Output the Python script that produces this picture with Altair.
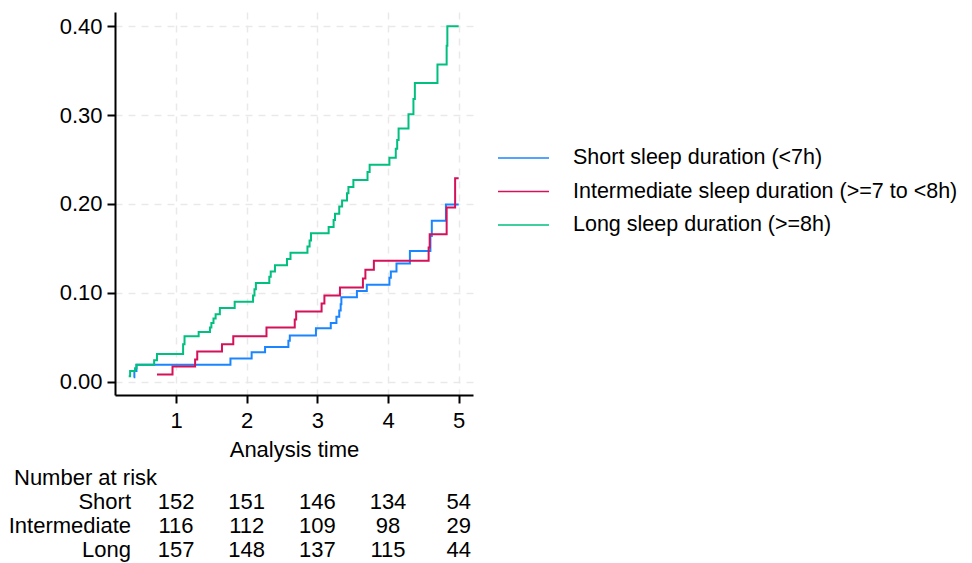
import altair as alt
import pandas as pd

# ---- data ----
groups = ["Short sleep duration (<7h)",
          "Intermediate sleep duration (>=7 to <8h)",
          "Long sleep duration (>=8h)"]
colors = ["#1A85FF", "#D41159", "#00BF7F"]

short_t = [0.40, 0.41, 0.44, 1.77, 2.07, 2.26, 2.59, 2.61, 2.98, 3.19, 3.27, 3.31,
           3.33, 3.34, 3.56, 3.70, 4.02, 4.04, 4.12, 4.31, 4.60, 4.62, 4.82, 5.00]
short_f = [0.005, 0.012, 0.019, 0.026, 0.033, 0.039, 0.046, 0.052, 0.060, 0.066, 0.073, 0.080,
           0.087, 0.095, 0.102, 0.109, 0.117, 0.124, 0.133, 0.147, 0.164, 0.181, 0.1995, 0.1995]

inter_t = [0.73, 0.95, 1.27, 1.30, 1.65, 1.81, 2.28, 2.68, 2.70, 3.06, 3.10, 3.32,
           3.645, 3.68, 3.80, 4.575, 4.59, 4.83, 4.95, 5.00]
inter_f = [0.008, 0.017, 0.025, 0.034, 0.042, 0.051, 0.061, 0.070, 0.079, 0.088, 0.097, 0.106,
           0.116, 0.126, 0.136, 0.151, 0.166, 0.196, 0.229, 0.229]

long_t = [0.33, 0.35, 0.42, 0.44, 0.69, 0.73, 1.10, 1.12, 1.32, 1.48, 1.50, 1.53, 1.56, 1.62,
          1.83, 2.09, 2.11, 2.13, 2.32, 2.34, 2.40, 2.57, 2.62, 2.86, 2.89, 2.91, 3.16, 3.23,
          3.25, 3.31, 3.35, 3.42, 3.44, 3.51, 3.71, 3.74, 4.02, 4.11, 4.13, 4.15, 4.29, 4.36,
          4.38, 4.70, 4.83, 4.84, 5.00]
long_f = [0.006, 0.012, 0.015, 0.019, 0.024, 0.031, 0.042, 0.051, 0.056, 0.061, 0.066, 0.071,
          0.076, 0.083, 0.090, 0.097, 0.104, 0.111, 0.118, 0.124, 0.131, 0.138, 0.145, 0.152,
          0.159, 0.167, 0.174, 0.182, 0.189, 0.197, 0.204, 0.212, 0.219, 0.227, 0.236, 0.244,
          0.252, 0.262, 0.272, 0.285, 0.301, 0.318, 0.336, 0.357, 0.378, 0.400, 0.400]

risk_times = [1, 2, 3, 4, 5]
risk_rows = ["Short", "Intermediate", "Long"]
risk_short = [152, 151, 146, 134, 54]
risk_inter = [116, 112, 109, 98, 29]
risk_long = [157, 148, 137, 115, 44]
risk_title = "Number at risk"

x_ticks = [1, 2, 3, 4, 5]
y_ticks = [0.0, 0.1, 0.2, 0.3, 0.4]

# ---- tables ----
rows = []
for g, ts, fs in zip(groups, [short_t, inter_t, long_t], [short_f, inter_f, long_f]):
    for t, f in zip(ts, fs):
        rows.append({"group": g, "time": t, "fail": f})
df = pd.DataFrame(rows)

risk = []
for r, vals in zip(risk_rows, [risk_short, risk_inter, risk_long]):
    for t, n in zip(risk_times, vals):
        risk.append({"row": r, "time": t, "n": n})
risk_df = pd.DataFrame(risk)
label_df = pd.DataFrame({"row": risk_rows})
title_df = pd.DataFrame({"row": [risk_title]})

FONT = "Liberation Sans"
FS = 22
xscale = alt.Scale(domain=[0.136, 5.203], nice=False, zero=False)
row_domain = [risk_title] + risk_rows
row_scale = alt.Scale(type="point", domain=row_domain, range=[473, 545], padding=0)

lines = alt.Chart(df).mark_line(interpolate="step-after", strokeWidth=2).encode(
    x=alt.X("time:Q", scale=xscale,
            axis=alt.Axis(values=x_ticks, format="d", title="Analysis time",
                          titleBaseline="alphabetic", titleY=61,
                          labelPadding=7, labelBaseline="top")),
    y=alt.Y("fail:Q", scale=alt.Scale(domain=[-0.015, 0.416], nice=False, zero=False),
            axis=alt.Axis(values=y_ticks, format=".2f", title=None, labelPadding=5)),
    color=alt.Color("group:N", scale=alt.Scale(domain=groups, range=colors),
                    legend=alt.Legend(title=None, orient="none", legendX=382, legendY=135,
                                      symbolType="stroke", symbolSize=2601,
                                      symbolStrokeWidth=1.5, clipHeight=22,
                                      rowPadding=11.5, labelOffset=23,
                                      labelFontSize=21.5, labelFont=FONT,
                                      labelColor="black", labelLimit=700, padding=0)),
)

nums = alt.Chart(risk_df).mark_text(fontSize=FS, font=FONT, baseline="alphabetic",
                                     align="center", color="black").encode(
    x=alt.X("time:Q", scale=xscale),
    y=alt.Y("row:N", scale=row_scale, axis=None),
    text=alt.Text("n:Q"),
)

labels = alt.Chart(label_df).mark_text(fontSize=FS, font=FONT, baseline="alphabetic",
                                        align="right", color="black").encode(
    x=alt.value(16),
    y=alt.Y("row:N", scale=row_scale, axis=None),
    text=alt.Text("row:N"),
)

title = alt.Chart(title_df).mark_text(fontSize=FS, font=FONT, baseline="alphabetic",
                                       align="left", color="black").encode(
    x=alt.value(-101),
    y=alt.Y("row:N", scale=row_scale, axis=None),
    text=alt.Text("row:N"),
)

chart = alt.layer(lines, nums, labels, title).resolve_scale(y="independent").properties(
    width=358, height=383,
    autosize=alt.AutoSizeParams(type="none"),
    padding={"left": 107, "top": 4, "right": 491, "bottom": 168},
).configure(font=FONT).configure_view(stroke=None).configure_axis(
    domainColor="black", domainWidth=2, tickColor="black", tickWidth=2, tickSize=8,
    labelFont=FONT, labelFontSize=FS, labelColor="black",
    titleFont=FONT, titleFontSize=FS, titleFontWeight="normal", titleColor="black",
    grid=True, gridColor="#e9e9e9", gridWidth=1.5, gridDash=[7, 6],
)

chart.save("out.html", embed_options={"renderer": "svg", "actions": False})
